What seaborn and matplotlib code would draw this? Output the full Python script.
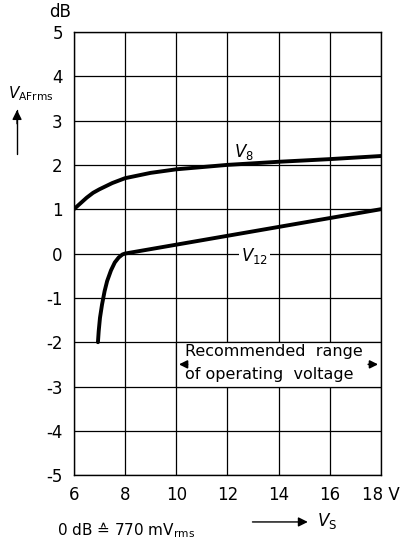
import numpy as np
import pandas as pd
import matplotlib.pyplot as plt
import seaborn as sns
from matplotlib.patches import Rectangle

# curve values (V_S in volts, level in dB)
v8_vs = [6.0, 6.25, 6.5, 6.75, 7.0, 7.5, 8.0, 9.0, 10.0, 12.0, 14.0, 16.0, 18.0]
v8_db = [1.0, 1.13, 1.26, 1.37, 1.45, 1.59, 1.7, 1.82, 1.9, 2.0, 2.07, 2.13, 2.2]

v12_vs = [6.94, 6.97, 7.02, 7.1, 7.2, 7.3, 7.45, 7.6, 7.75, 7.9, 8.0, 10.0, 12.0, 14.0, 16.0, 18.0]
v12_db = [-2.0, -1.75, -1.45, -1.15, -0.85, -0.62, -0.38, -0.2, -0.09, -0.02, 0.0, 0.2, 0.4, 0.6, 0.8, 1.0]

x_ticks = [6, 8, 10, 12, 14, 16, 18]
x_labels = ['6', '8', '10', '12', '14', '16', '18 V']
y_ticks = [5, 4, 3, 2, 1, 0, -1, -2, -3, -4, -5]

sns.set_style('white')
plt.rcParams['font.family'] = ['DejaVu Sans']
plt.rcParams['text.color'] = 'black'

fig = plt.figure(figsize=(4.06, 5.5), dpi=100)
ax = fig.add_axes([0.182, 0.136, 0.756, 0.806])

df8 = pd.DataFrame({'vs': v8_vs, 'db': v8_db})
df12 = pd.DataFrame({'vs': v12_vs, 'db': v12_db})
sns.lineplot(data=df8, x='vs', y='db', color='black', lw=2.8, ax=ax, zorder=4)
sns.lineplot(data=df12, x='vs', y='db', color='black', lw=2.8, ax=ax, zorder=4)

ax.set_xlim(6, 18)
ax.set_ylim(-5, 5)
ax.set_xticks(x_ticks)
ax.set_xticklabels(x_labels)
ax.set_yticks(y_ticks)
ax.set_yticklabels([str(t) for t in y_ticks])
ax.tick_params(length=0, labelsize=12, pad=8, colors='black')
ax.set_xlabel('')
ax.set_ylabel('')
ax.grid(True, color='black', lw=0.9)
ax.set_axisbelow(True)
for s in ax.spines.values():
    s.set_color('black')
    s.set_linewidth(1.0)

# recommended range box
ax.add_patch(Rectangle((10, -3), 8, 1, facecolor='white', edgecolor='black',
                       lw=0.9, zorder=2))
ax.text(10.35, -2.22, 'Recommended  range', fontsize=11.5, va='center', ha='left', zorder=3)
ax.text(10.35, -2.72, 'of operating  voltage', fontsize=11.5, va='center', ha='left', zorder=3)
ax.annotate('', xy=(10.0, -2.5), xytext=(10.55, -2.5),
            arrowprops=dict(arrowstyle='-|>', color='black', lw=1.2, mutation_scale=12), zorder=3)
ax.annotate('', xy=(18.0, -2.5), xytext=(17.4, -2.5),
            arrowprops=dict(arrowstyle='-|>', color='black', lw=1.2, mutation_scale=12), zorder=3)

# curve labels
ax.text(12.65, 2.3, '$V_8$', fontsize=12, ha='center', va='center', zorder=3)
ax.text(13.05, -0.05, '$V_{12}$', fontsize=12, ha='center', va='center', zorder=3,
        bbox=dict(facecolor='white', edgecolor='none', pad=1.5))

# axis annotations
fig.text(0.148, 0.978, 'dB', fontsize=12, ha='center', va='center')
fig.text(0.076, 0.829, '$V_{\\mathrm{AFrms}}$', fontsize=11, ha='center', va='center')
fig.add_artist(plt.Line2D([0.042, 0.042], [0.72, 0.80], color='black', lw=1.0))
ax.annotate('', xy=(0.042, 0.805), xytext=(0.042, 0.77), xycoords='figure fraction',
            textcoords='figure fraction',
            arrowprops=dict(arrowstyle='-|>', color='black', lw=1.0, mutation_scale=14))
ax.annotate('', xy=(0.765, 0.051), xytext=(0.615, 0.051), xycoords='figure fraction',
            textcoords='figure fraction',
            arrowprops=dict(arrowstyle='-|>', color='black', lw=1.0, mutation_scale=14))
fig.text(0.805, 0.053, '$V_\\mathrm{S}$', fontsize=12, ha='center', va='center')
fig.text(0.14, 0.037, '0 dB \u2259 770 mV$_\\mathrm{rms}$', fontsize=11, ha='left', va='center')

fig.savefig('out.png', dpi=100)
